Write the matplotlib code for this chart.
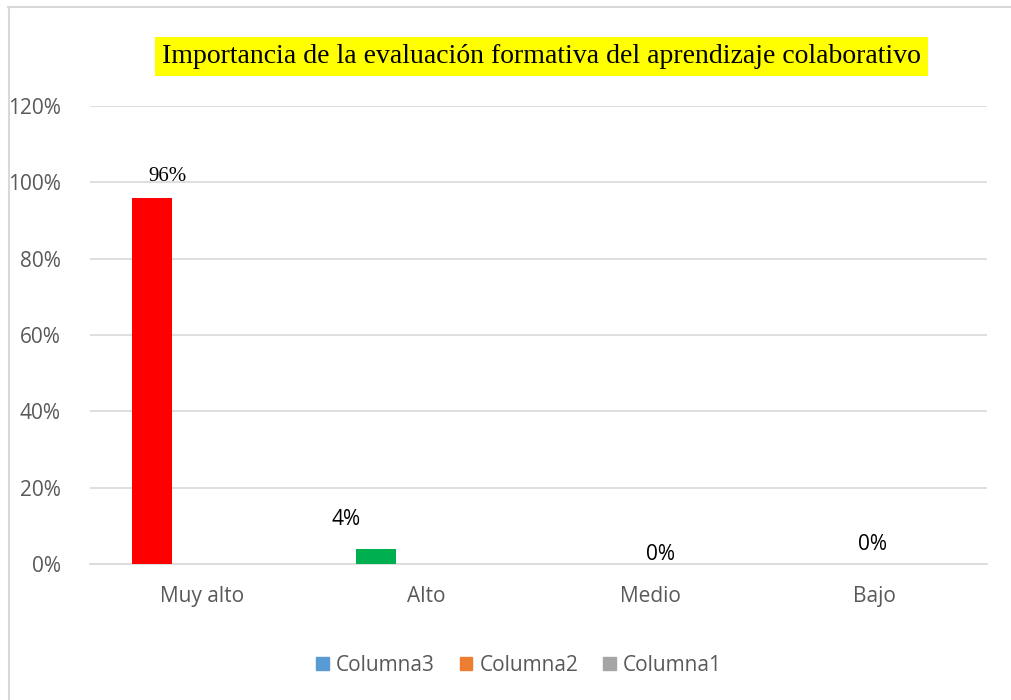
import matplotlib.pyplot as plt
from matplotlib.patches import Rectangle
from matplotlib.lines import Line2D

categorias = ['Muy alto', 'Alto', 'Medio', 'Bajo']
columna3 = [0.96, 0.04, 0.0, 0.0]
columna2 = [0.0, 0.0, 0.0, 0.0]
columna1 = [0.0, 0.0, 0.0, 0.0]
colores_col3 = ['#ff0000', '#00b050', '#5b9bd5', '#5b9bd5']
etiquetas = ['96%', '4%', '0%', '0%']
yticks = [0, 0.2, 0.4, 0.6, 0.8, 1.0, 1.2]
ytick_labels = ['0%', '20%', '40%', '60%', '80%', '100%', '120%']

fig = plt.figure(figsize=(10.12, 7.0), dpi=100)
ax = fig.add_axes([0.0889, 0.1943, 0.8864, 0.6543])

x = list(range(len(categorias)))
w = 0.178
off = 0.223
ax.bar([i - off for i in x], columna3, w, color=colores_col3, zorder=3)
ax.bar(x, columna2, w, color='#ed7d31', zorder=3)
ax.bar([i + off for i in x], columna1, w, color='#a5a5a5', zorder=3)

ax.set_xlim(-0.5, 3.5)
ax.set_ylim(0, 1.2)
ax.set_yticks(yticks)
ax.set_yticklabels(ytick_labels)
ax.set_xticks(x)
ax.set_xticklabels(categorias)
ax.yaxis.grid(True, color='#d9d9d9', linewidth=1.2, zorder=0)
for s in ['top', 'right', 'left']:
    ax.spines[s].set_visible(False)
ax.spines['bottom'].set_color('#d9d9d9')
ax.spines['bottom'].set_linewidth(1.2)
ax.tick_params(axis='both', length=0, colors='#595959', labelsize=15)
ax.tick_params(axis='x', pad=16)
ax.tick_params(axis='y', pad=21)
for t in ax.get_xticklabels() + ax.get_yticklabels():
    t.set_fontfamily('Open Sans')

# data labels (offsets in points)
offsets = [(11, 15), (-22, 21), (43, 7), (34, 14)]
fuentes = ['Liberation Serif', 'Open Sans', 'Open Sans', 'Open Sans']
for i, v in enumerate(columna3):
    ax.annotate(etiquetas[i], (i - off, v), xytext=offsets[i], textcoords='offset points',
                ha='center', va='center', fontsize=15, family=fuentes[i], color='black')

fig.text(0.5352, 0.919, 'Importancia de la evaluación formativa del aprendizaje colaborativo',
         ha='center', va='center', fontsize=20, family='Liberation Serif',
         bbox=dict(facecolor='#ffff00', edgecolor='none', pad=5))

handles = [Rectangle((0, 0), 1, 1, color=c) for c in ['#5b9bd5', '#ed7d31', '#a5a5a5']]
leg = fig.legend(handles, ['Columna3', 'Columna2', 'Columna1'], loc='center',
                 bbox_to_anchor=(0.513, 0.049), ncol=3, frameon=False,
                 handlelength=0.6, handleheight=0.6, handletextpad=0.35, columnspacing=1.2,
                 prop={'family': 'Open Sans', 'size': 15})
for t in leg.get_texts():
    t.set_color('#595959')

# chart frame (top and left edges)
fig.add_artist(Line2D([0.008, 1.0], [0.99, 0.99], color='#d9d9d9', linewidth=1.5))
fig.add_artist(Line2D([0.009, 0.009], [0.0, 0.99], color='#d9d9d9', linewidth=1.5))

fig.savefig('out.png', dpi=100)
